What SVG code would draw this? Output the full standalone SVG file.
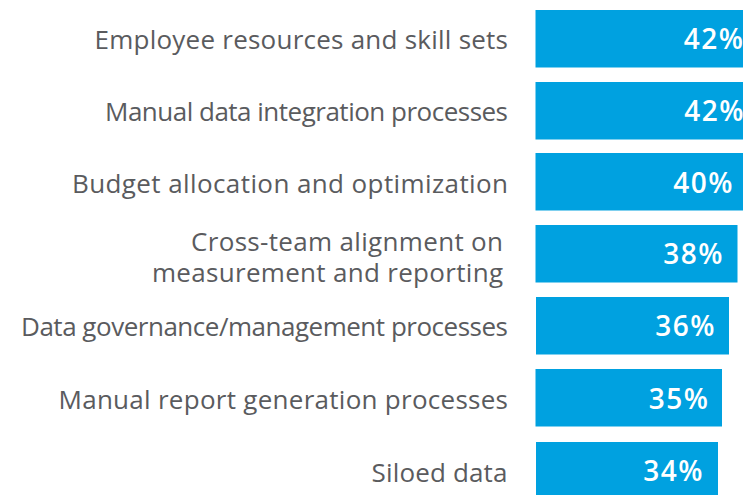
<svg xmlns="http://www.w3.org/2000/svg" width="743" height="495" viewBox="0 0 743 495">
<style>
.bar{fill:#00A1E0}
.lbl{font-family:"Open Sans","Liberation Sans",sans-serif;font-size:26px;fill:#5A5B5E;text-anchor:end}
.pct{font-family:"Open Sans","Liberation Sans",sans-serif;font-size:28px;font-weight:600;fill:#FFFFFF;text-anchor:end;letter-spacing:1.5px}
</style>
<rect width="743" height="495" fill="#FFFFFF"/>
<g id="row1"><text class="lbl" x="508" y="48.5" textLength="413.5">Employee resources and skill sets</text><rect class="bar" x="535.5" y="10" width="225" height="57.5"/><text class="pct" x="744.5" y="48.5">42%</text></g>
<g id="row2"><text class="lbl" x="508" y="120.5" textLength="403">Manual data integration processes</text><rect class="bar" x="535.5" y="82" width="225" height="57.5"/><text class="pct" x="745" y="120.5">42%</text></g>
<g id="row3"><text class="lbl" x="508" y="192.5" textLength="436">Budget allocation and optimization</text><rect class="bar" x="535.5" y="153" width="212" height="57.5"/><text class="pct" x="734" y="192.5">40%</text></g>
<g id="row4"><text class="lbl" x="503" y="250.5" textLength="312">Cross-team alignment on</text><text class="lbl" x="503" y="282" textLength="351">measurement and reporting</text><rect class="bar" x="535.5" y="225" width="202" height="57.5"/><text class="pct" x="724" y="263.5">38%</text></g>
<g id="row5"><text class="lbl" x="508" y="336" textLength="487">Data governance/management processes</text><rect class="bar" x="536" y="297" width="193" height="57.5"/><text class="pct" x="716" y="336">36%</text></g>
<g id="row6"><text class="lbl" x="508" y="408.5" textLength="449.5">Manual report generation processes</text><rect class="bar" x="535.5" y="369" width="186.5" height="57.5"/><text class="pct" x="709.5" y="408.5">35%</text></g>
<g id="row7"><text class="lbl" x="507.5" y="481.5" textLength="136">Siloed data</text><rect class="bar" x="536" y="442" width="182" height="57.5"/><text class="pct" x="704" y="481">34%</text></g>
<g id="connectors"/>
</svg>
